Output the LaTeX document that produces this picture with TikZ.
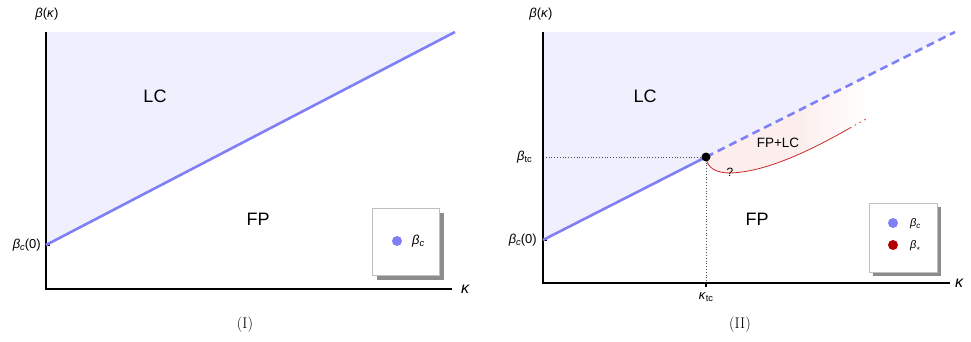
\documentclass[tikz,border=0pt]{standalone}
\usepackage{fontspec}
\setmainfont{Liberation Sans}
\newfontfamily\lmserif{Latin Modern Roman}
\newcommand\sbx[1]{\raisebox{-0.3ex}{\scalebox{0.72}{#1}}}
\definecolor{lcfill}{RGB}{239,239,253}
\definecolor{bline}{RGB}{128,128,245}
\definecolor{rline}{RGB}{205,40,40}
\definecolor{rdot}{RGB}{180,0,0}
\definecolor{pinkfill}{RGB}{253,238,238}
\definecolor{shadowgray}{RGB}{140,140,140}
\begin{document}
\begin{tikzpicture}[x=1pt,y=-1pt,
  axis/.style={line width=1.1pt,black},
  crit/.style={line width=2.6pt,bline},
  lbl/.style={inner sep=0pt,font=\fontsize{13}{13}\selectfont},
  region/.style={inner sep=0pt,font=\fontsize{18}{18}\selectfont},
  captext/.style={inner sep=0pt,font=\lmserif\fontsize{15.5}{15.5}\selectfont},
  legbox/.style={draw=black!25,fill=white,line width=0.8pt},
  legshadow/.style={fill=shadowgray,draw=none},
  guide/.style={dotted,line width=0.8pt,black!70}]
\useasboundingbox (0,0) rectangle (971,342);
% ---------- Panel I ----------
\coordinate (o1) at (46,289);
\coordinate (t1) at (46,32);
\coordinate (r1) at (452,289);
\coordinate (b1) at (46,245);
\coordinate (e1) at (455,32);
\fill[lcfill] (t1) -- (e1) -- (b1) -- cycle;
\draw[axis] (t1) -- (o1) -- (r1);
\draw[axis] (b1) -- ++(4,0);
\draw[crit] (b1) -- (e1);
\node[lbl] (yl1) at (47,14) {\textit{β}(\textit{κ})};
\node[lbl,anchor=west,font=\fontsize{16}{16}\selectfont] (xl1) at (461,289) {\textit{κ}};
\node[lbl,anchor=east] (bc1) at (41,245) {\textit{β}\sbx{\textit{c}}(0)};
\node[region] (lc1) at (155,96) {LC};
\node[region] (fp1) at (258,219) {FP};
\fill[legshadow] (377,213) rectangle (444,280);
\draw[legbox] (372,208) rectangle (439,275);
\fill[bline] (397,241) circle (5);
\node[lbl,anchor=west] (lg1) at (412,241) {\textit{β}\sbx{\textit{c}}};
\node[captext] (c1) at (245,325) {(I)};
% ---------- Panel II ----------
\coordinate (o2) at (543,283);
\coordinate (t2) at (543,32);
\coordinate (r2) at (950,283);
\coordinate (b2) at (543,240);
\coordinate (tc) at (706,157);
\coordinate (e2) at (955,32);
\coordinate (kt) at (706,283);
\coordinate (bt) at (543,157);
\fill[lcfill] (t2) -- (e2) -- (b2) -- cycle;
\coordinate (pA) at (868,75.7);
\coordinate (pB) at (868,118);
\coordinate (pC) at (850,128);
\begin{scope}
\clip (tc) -- (pA) -- (pB) -- (pC)
  .. controls (820,145) and (770,172) .. (730,173)
  .. controls (716,173) and (707,168) .. (tc) -- cycle;
\fill[pinkfill] (700,70) rectangle (800,180);
\shade[left color=pinkfill,right color=white] (800,70) rectangle (870,180);
\end{scope}
\draw[guide] (bt) -- (tc);
\draw[guide] (tc) -- (kt);
\draw[axis] (t2) -- (o2) -- (r2);
\draw[axis] (b2) -- ++(4,0);
\draw[axis] (kt) -- ++(0,4);
\draw[crit] (b2) -- (tc);
\draw[crit,dash pattern=on 8pt off 5pt] (tc) -- (e2);
\draw[rline,line width=0.8pt] (tc) .. controls (707,168) and (716,173) .. (730,173)
  .. controls (770,172) and (820,145) .. (pC);
\draw[rline,line width=0.8pt,dash pattern=on 1.5pt off 4pt] (pC) -- (pB);
\fill[black] (tc) circle (4.5);
\node[lbl] (yl2) at (541,14) {\textit{β}(\textit{κ})};
\node[lbl,anchor=west,font=\fontsize{16}{16}\selectfont] (xl2) at (955,283) {\textit{κ}};
\node[lbl,anchor=east] (bc2) at (537,240) {\textit{β}\sbx{\textit{c}}(0)};
\node[lbl,anchor=east] (btc) at (532,157) {\textit{β}\sbx{tc}};
\node[lbl] (ktc) at (706,297) {\textit{κ}\sbx{tc}};
\node[region] (lc2) at (645,96) {LC};
\node[region] (fp2) at (757,219) {FP};
\node[inner sep=0pt,font=\fontsize{13.5}{13.5}\selectfont] (fplc) at (778,143) {FP+LC};
\node[inner sep=0pt,font=\fontsize{12}{12}\selectfont] (q) at (730,172) {?};
\fill[legshadow] (873,207) rectangle (941,276);
\draw[legbox] (869,203) rectangle (937,272);
\fill[bline] (893,223) circle (5);
\fill[rdot] (893,245) circle (5);
\node[inner sep=0pt,anchor=west,font=\fontsize{11}{11}\selectfont] (lgb) at (910,224) {\textit{β}\sbx{\textit{c}}};
\node[inner sep=0pt,anchor=west,font=\fontsize{11}{11}\selectfont] (lgs) at (910,246) {\textit{β}\sbx{$\star$}};
\node[captext] (c2) at (740,325) {(II)};
\end{tikzpicture}
\end{document}
